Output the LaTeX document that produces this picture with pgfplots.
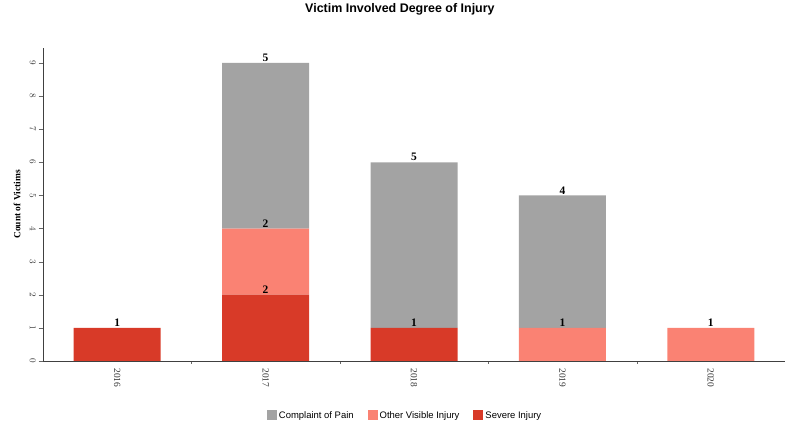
\documentclass[border=0pt]{standalone}
\usepackage{fontspec}
\setmainfont{Liberation Sans}
\newfontfamily\serif{Liberation Serif}
\usepackage{pgfplots}
\pgfplotsset{compat=1.18}
\definecolor{pain}{RGB}{163,163,163}
\definecolor{other}{RGB}{250,130,115}
\definecolor{severe}{RGB}{216,58,40}

\begin{document}
\begin{tikzpicture}
\begin{axis}[
    scale only axis,
    width=742bp, height=313bp,
    ybar stacked, bar width=87bp,
    xmin=-0.5, xmax=4.5,
    ymin=0, ymax=9.45,
    axis x line=bottom, axis y line=left,
    axis line style={-, black!75},
    tick align=outside,
    xtick={0,1,2,3,4},
    xticklabels={2016,2017,2018,2019,2020},
    major x tick style={draw=none},
    minor xtick={0.5,1.5,2.5,3.5},
    minor x tick style={black!60},
    ytick={0,1,...,9},
    y tick style={black!60},
    tick label style={font=\serif\fontsize{9.5}{9.5}\selectfont, rotate=-90, text=black!80},
    xticklabel style={anchor=west, inner sep=3bp},
    yticklabel style={anchor=north, inner sep=3bp},
    ylabel={Count of Victims},
    ylabel style={at={(axis description cs:-0.035,0.5)}, anchor=center,
        font=\serif\bfseries\fontsize{9.5}{9.5}\selectfont},
    title={Victim Involved Degree of Injury},
    title style={at={(axis description cs:0.481,1.105)}, anchor=center, yshift=0pt,
        font=\bfseries\fontsize{12.5}{12.5}\selectfont},
    nodes near coords,
    point meta=explicit symbolic,
    visualization depends on=rawy \as \rawy,
    every node near coord/.append style={font=\serif\bfseries\fontsize{11.5}{11.5}\selectfont,
        anchor=south, inner sep=1pt, text=black,
        shift={(axis direction cs:0,\rawy/2)}},
    legend style={at={(axis description cs:0.488,-0.176)}, anchor=center,
        legend columns=-1, draw=none, font=\fontsize{9.5}{9.5}\selectfont,
        /tikz/every even column/.append style={column sep=12bp}},
    legend image code/.code={\draw[#1,draw=none] (0bp,-4bp) rectangle (10bp,6bp);},
    reverse legend,
]
\addplot[fill=severe, draw=none] coordinates {(0,1) [1] (1,2) [2] (2,1) [1] (3,0) [] (4,0) []};
\addplot[fill=other, draw=none] coordinates {(0,0) [] (1,2) [2] (2,0) [] (3,1) [1] (4,1) [1]};
\addplot[fill=pain, draw=none] coordinates {(0,0) [] (1,5) [5] (2,5) [5] (3,4) [4] (4,0) []};
\legend{Severe Injury, Other Visible Injury, Complaint of Pain}
\end{axis}
\path (-43bp,-67bp) rectangle (745bp,358bp);
\end{tikzpicture}
\end{document}
